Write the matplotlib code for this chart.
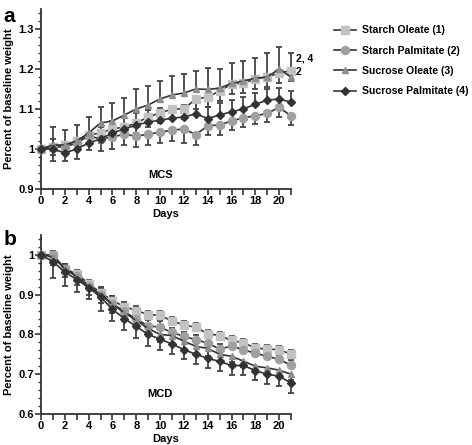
import numpy as np
import matplotlib

matplotlib.use("Agg")
import matplotlib.pyplot as plt
from matplotlib.ticker import MultipleLocator

plt.rcParams["font.family"] = ["Liberation Sans", "DejaVu Sans"]
plt.rcParams["font.weight"] = "bold"

days = np.arange(22)
labels = ["Starch Oleate (1)", "Starch Palmitate (2)", "Sucrose Oleate (3)", "Sucrose Palmitate (4)"]

# Panel a (MCS)
mcs_so = [1.0, 1.005, 1.01, 1.02, 1.035, 1.04, 1.05, 1.055, 1.065, 1.08, 1.09, 1.10, 1.10,
          1.125, 1.13, 1.145, 1.162, 1.165, 1.175, 1.18, 1.19, 1.196]
mcs_sp = [1.0, 1.005, 1.005, 1.015, 1.033, 1.025, 1.03, 1.037, 1.032, 1.037, 1.042, 1.047, 1.05,
          1.036, 1.058, 1.06, 1.07, 1.078, 1.083, 1.089, 1.104, 1.083]
mcs_suo = [1.0, 1.01, 1.01, 1.02, 1.04, 1.065, 1.07, 1.085, 1.10, 1.11, 1.125, 1.135, 1.14,
           1.15, 1.149, 1.152, 1.164, 1.17, 1.177, 1.18, 1.20, 1.18]
mcs_sup = [1.0, 1.0, 0.99, 1.0, 1.015, 1.025, 1.04, 1.05, 1.06, 1.067, 1.072, 1.077, 1.08,
           1.088, 1.076, 1.085, 1.093, 1.10, 1.112, 1.122, 1.125, 1.117]
mcs_so_err = [0, 0.02, 0.02, 0.022, 0.022, 0.025, 0.025, 0.025, 0.025, 0.025, 0.025, 0.025, 0.025,
              0.025, 0.025, 0.025, 0.025, 0.025, 0.025, 0.025, 0.025, 0.025]
mcs_sp_err = [0, 0.035, 0.035, 0.04, 0.035, 0.03, 0.03, 0.027, 0.027, 0.027, 0.027, 0.027, 0.035,
              0.026, 0.023, 0.025, 0.022, 0.022, 0.021, 0.022, 0.023, 0.023]
mcs_suo_err = [0, 0.045, 0.037, 0.04, 0.04, 0.04, 0.045, 0.043, 0.05, 0.048, 0.045, 0.048, 0.048,
               0.045, 0.053, 0.048, 0.052, 0.051, 0.051, 0.059, 0.056, 0.059]
mcs_sup_err = [0, 0.025, 0.025, 0.028, 0.028, 0.03, 0.03, 0.03, 0.03, 0.03, 0.03, 0.03, 0.03,
               0.03, 0.03, 0.03, 0.03, 0.03, 0.028, 0.028, 0.028, 0.028]

# Panel b (MCD)
mcd_so = [1.0, 1.0, 0.965, 0.952, 0.928, 0.905, 0.885, 0.87, 0.86, 0.85, 0.848, 0.834, 0.824,
          0.818, 0.802, 0.797, 0.785, 0.779, 0.766, 0.763, 0.762, 0.75]
mcd_sp = [1.0, 1.0, 0.965, 0.948, 0.922, 0.90, 0.877, 0.858, 0.838, 0.822, 0.818, 0.805, 0.795,
          0.787, 0.778, 0.763, 0.771, 0.761, 0.753, 0.745, 0.737, 0.723]
mcd_suo = [1.0, 0.995, 0.965, 0.945, 0.92, 0.90, 0.875, 0.855, 0.835, 0.815, 0.80, 0.797, 0.783,
           0.77, 0.765, 0.75, 0.745, 0.733, 0.72, 0.716, 0.71, 0.70]
mcd_sup = [1.0, 0.983, 0.957, 0.938, 0.918, 0.894, 0.863, 0.84, 0.82, 0.80, 0.788, 0.776, 0.762,
           0.75, 0.74, 0.732, 0.722, 0.722, 0.709, 0.70, 0.695, 0.678]
mcd_so_err = [0, 0.01, 0.012, 0.01, 0.01, 0.012, 0.012, 0.012, 0.012, 0.01, 0.01, 0.01, 0.01,
              0.01, 0.01, 0.01, 0.01, 0.01, 0.01, 0.01, 0.01, 0.01]
mcd_sp_err = [0, 0.01, 0.012, 0.012, 0.012, 0.02, 0.02, 0.02, 0.015, 0.015, 0.015, 0.012, 0.012,
              0.012, 0.012, 0.012, 0.012, 0.012, 0.012, 0.012, 0.012, 0.012]
mcd_suo_err = [0, 0.02, 0.02, 0.02, 0.02, 0.02, 0.02, 0.02, 0.02, 0.02, 0.02, 0.02, 0.02,
               0.02, 0.02, 0.02, 0.015, 0.015, 0.015, 0.015, 0.015, 0.015]
mcd_sup_err = [0, 0.04, 0.035, 0.032, 0.03, 0.035, 0.03, 0.03, 0.03, 0.03, 0.027, 0.025, 0.025,
               0.025, 0.025, 0.025, 0.024, 0.024, 0.024, 0.024, 0.024, 0.024]

styles = [
    dict(marker="s", color="#c2c2c2", ms=5.2),
    dict(marker="o", color="#a0a0a0", ms=5.8),
    dict(marker="^", color="#8e8e8e", ms=5.0),
    dict(marker="D", color="#333333", ms=3.6),
]
LINE = "#333333"
BAR = "#444444"


def draw(ax, series, errs, up):
    for y, e, st, u, lab in zip(series, errs, styles, up, labels):
        y = np.array(y)
        e = np.array(e)
        z = np.zeros_like(e)
        yerr = [z, e] if u else [e, z]
        _, caps, _ = ax.errorbar(days, y, yerr=yerr, fmt="none", ecolor=BAR,
                                 elinewidth=1.3, capsize=2.3, capthick=1.3, zorder=2,
                                 clip_on=False)
        caps[0 if u else 1].set_visible(False)
        ax.plot(days, y, "-", color=LINE, lw=1.2, marker=st["marker"], ms=st["ms"],
                mfc=st["color"], mec=st["color"], zorder=3, clip_on=False, label=lab)


def style_axes(ax, ylo, yhi):
    ax.set_xlim(0, 21)
    ax.set_ylim(ylo, yhi)
    for s in ("top", "right"):
        ax.spines[s].set_visible(False)
    for s in ("left", "bottom"):
        ax.spines[s].set_linewidth(1.3)
        ax.spines[s].set_color("#333333")
    ax.xaxis.set_major_locator(MultipleLocator(2))
    ax.xaxis.set_minor_locator(MultipleLocator(1))
    ax.yaxis.set_major_locator(MultipleLocator(0.1))
    ax.yaxis.set_minor_locator(MultipleLocator(0.02))
    ax.tick_params(axis="x", which="both", length=4, width=1.2, color="#333333",
                   labelsize=8, pad=1)
    ax.tick_params(axis="y", which="major", length=4, width=1.2, color="#333333",
                   labelsize=8, pad=1)
    ax.tick_params(axis="y", which="minor", length=2, width=1.0, color="#333333")
    ax.set_yticks(np.round(np.arange(ylo, yhi - 0.04, 0.1), 2))
    ax.set_yticklabels([f"{v:g}" for v in np.round(np.arange(ylo, yhi - 0.04, 0.1), 2)])
    ax.set_xlabel("Days", fontsize=8, fontweight="bold", labelpad=2)
    ax.set_ylabel("Percent of baseline weight", fontsize=8, fontweight="bold", labelpad=3)


fig = plt.figure(figsize=(4.72, 4.45), dpi=100)
ax1 = fig.add_axes([0.0869, 0.5753, 0.5297, 0.4045])
ax2 = fig.add_axes([0.0869, 0.0697, 0.5297, 0.4022])

draw(ax1, [mcs_so, mcs_sp, mcs_suo, mcs_sup],
     [mcs_so_err, mcs_sp_err, mcs_suo_err, mcs_sup_err], [False, False, True, True])
style_axes(ax1, 0.9, 1.35)
ax1.text(10, 0.935, "MCS", fontsize=8, fontweight="bold", ha="center", va="center")
ax1.text(21.4, 1.227, "2, 4", fontsize=7.5, fontweight="bold", ha="left", va="center",
         clip_on=False)
ax1.text(21.4, 1.193, "2", fontsize=7.5, fontweight="bold", ha="left", va="center",
         clip_on=False)

draw(ax2, [mcd_so, mcd_sp, mcd_suo, mcd_sup],
     [mcd_so_err, mcd_sp_err, mcd_suo_err, mcd_sup_err], [True, True, False, False])
style_axes(ax2, 0.6, 1.05)
ax2.text(10, 0.65, "MCD", fontsize=8, fontweight="bold", ha="center", va="center")

fig.text(0.008, 0.985, "a", fontsize=15, fontweight="bold", va="top")
fig.text(0.008, 0.483, "b", fontsize=15, fontweight="bold", va="top")

handles, labs = ax1.get_legend_handles_labels()
fig.legend(handles, labs, loc="upper left", bbox_to_anchor=(0.708, 0.943), frameon=False,
           fontsize=7.6, handlelength=2.1, handletextpad=0.55, labelspacing=0.98,
           borderaxespad=0, borderpad=0)

fig.savefig("out.png", dpi=100)
